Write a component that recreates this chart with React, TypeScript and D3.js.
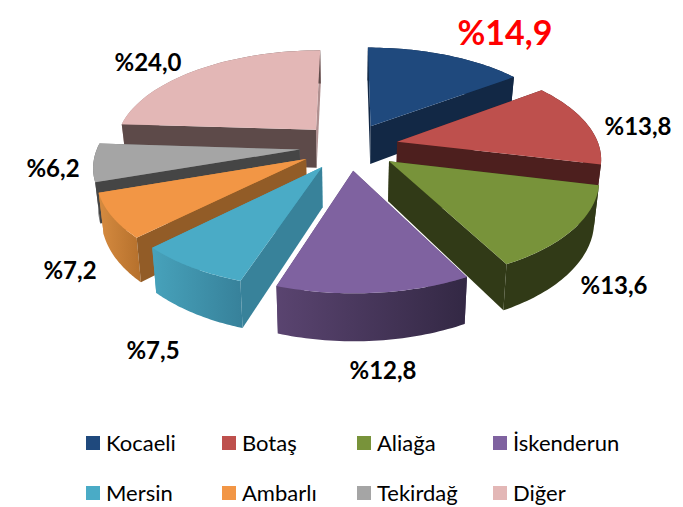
import React from "react";
import * as d3 from "d3";

const categories = ["Kocaeli", "Botaş", "Aliağa", "İskenderun", "Mersin", "Ambarlı", "Tekirdağ", "Diğer"];
const values = [14.9, 13.8, 13.6, 12.8, 7.5, 7.2, 6.2, 24.0];
const valueLabels = ["%14,9", "%13,8", "%13,6", "%12,8", "%7,5", "%7,2", "%6,2", "%24,0"];
const topColors = ["#1F497D", "#BE504D", "#78933A", "#7F62A0", "#4AABC6", "#F29645", "#A5A5A5", "#E3B7B6"];
const planeColors = ["#122845", "#4D1F1E", "#313A17", "#3A2D50", "#38829A", "#925C27", "#454545", "#5D4A49"];
const rimLeft = ["#122845", "#4D1F1E", "#313A17", "#5A4470", "#47A2BB", "#D68B40", "#707070", "#B09090"];
const rimRight = ["#122845", "#4D1F1E", "#313A17", "#332844", "#37819A", "#B5702C", "#505050", "#5D4A49"];
const paintOrder = [0, 7, 1, 6, 2, 5, 4, 3];
const labelX = [505, 638, 614, 383, 153, 70, 53, 148];
const labelY = [31, 125, 284, 369, 349, 269, 167, 61];

const cx = 349, cy = 146.5, A = 202, B = 96, P = 0.15, EXPLODE = 0.245, DEPTH = 39, CONVERGE = 0.98;

type Pt = [number, number];
function project(X: number, Y: number, bottom: boolean): Pt {
  const s = 1 / (1 + P * Y);
  const k = bottom ? CONVERGE : 1;
  return [cx + A * X * s * k, cy - B * Y * s + (bottom ? DEPTH * s : 0)];
}

const pie = d3.pie<number>().sort(null).startAngle(0).endAngle(2 * Math.PI);
const arcsData = pie(values);
const line = d3.line<Pt>();

function rimPoint(a: number, oX: number, oY: number, bottom: boolean): Pt {
  return project(oX + Math.sin(a), oY + Math.cos(a), bottom);
}

function buildSlice(i: number) {
  const { startAngle: a0, endAngle: a1 } = arcsData[i];
  const mid = (a0 + a1) / 2;
  const oX = EXPLODE * Math.sin(mid);
  const oY = EXPLODE * Math.cos(mid);
  const n = 40;
  const angles = d3.range(n + 1).map((k) => a0 + ((a1 - a0) * k) / n);
  const topArc = angles.map((a) => rimPoint(a, oX, oY, false));
  const bottomArc = angles.map((a) => rimPoint(a, oX, oY, true));
  const apexTop = project(oX, oY, false);
  const apexBottom = project(oX, oY, true);
  const top = line([apexTop, ...topArc])! + "Z";
  const rim = line([...topArc, ...bottomArc.slice().reverse()])! + "Z";
  const plane = (a: number) =>
    line([apexTop, rimPoint(a, oX, oY, false), rimPoint(a, oX, oY, true), apexBottom])! + "Z";
  const startVisible = Math.sin(a0) < -1e-6;
  const endVisible = Math.sin(a1) > 1e-6;
  return { top, rim, start: plane(a0), end: plane(a1), startVisible, endVisible };
}

const legendX = [86, 222, 357, 493];
const legendY = [436, 486];

export default function App() {
  return (
    <svg
      width={683}
      height={507}
      viewBox="0 0 683 507"
      style={{ position: "fixed", left: 0, top: 0, background: "#fff", fontFamily: "Lato, Carlito, sans-serif" }}
    >
      <defs>
        {categories.map((c, i) => (
          <linearGradient key={c} id={`rim${i}`} x1="0" x2="1" y1="0" y2="0">
            <stop offset="0" stopColor={rimLeft[i]} />
            <stop offset="1" stopColor={rimRight[i]} />
          </linearGradient>
        ))}
      </defs>
      {paintOrder.map((i) => {
        const s = buildSlice(i);
        const back = [
          !s.startVisible ? s.start : null,
          !s.endVisible ? s.end : null,
        ].filter(Boolean) as string[];
        const front = [
          s.startVisible ? s.start : null,
          s.endVisible ? s.end : null,
        ].filter(Boolean) as string[];
        return (
          <g key={categories[i]}>
            {back.map((d, k) => (
              <path key={k} d={d} fill={rimLeft[i]} />
            ))}
            <path d={s.rim} fill={`url(#rim${i})`} />
            {front.map((d, k) => (
              <path key={k} d={d} fill={planeColors[i]} />
            ))}
            <path d={s.top} fill={topColors[i]} />
          </g>
        );
      })}
      {valueLabels.map((t, i) => (
        <text
          key={t}
          x={labelX[i]}
          y={labelY[i]}
          textAnchor="middle"
          dominantBaseline="central"
          fontWeight={700}
          fontSize={i === 0 ? 34 : 24}
          fill={i === 0 ? "#FF0000" : "#000"}
        >
          {t}
        </text>
      ))}
      {categories.map((c, i) => {
        const x = legendX[i % 4];
        const y = legendY[Math.floor(i / 4)];
        return (
          <g key={c}>
            <rect x={x} y={y} width={14} height={14} fill={topColors[i]} />
            <text x={x + 20} y={y + 15} fontSize={22} fill="#000">
              {c}
            </text>
          </g>
        );
      })}
    </svg>
  );
}
